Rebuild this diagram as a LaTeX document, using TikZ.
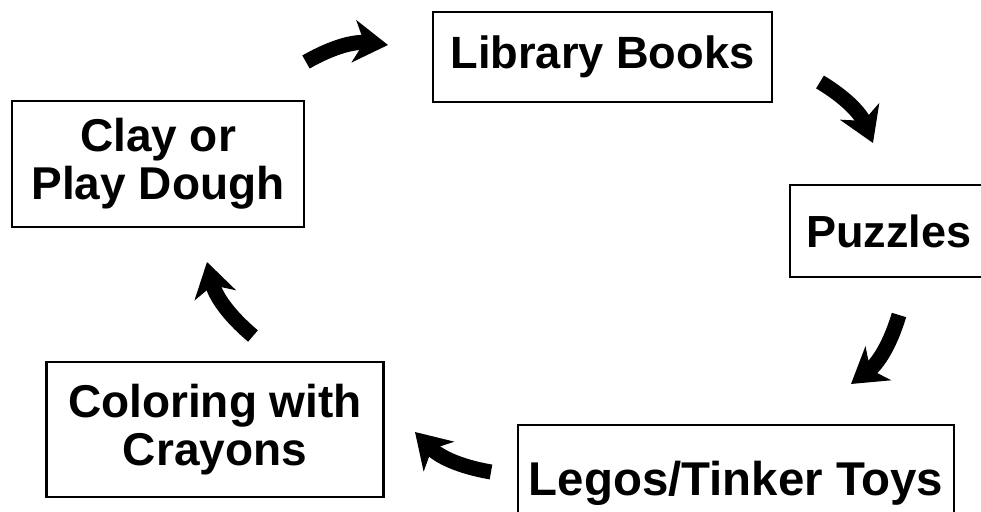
\documentclass[tikz,border=0pt]{standalone}
\usepackage{fontspec}
\setmainfont{Liberation Sans}
\usetikzlibrary{arrows.meta}
\tikzstyle{box}=[rectangle,draw=black,line width=1.3pt,fill=white,inner sep=0pt,align=center,font=\fontsize{23}{23.8}\selectfont\bfseries, anchor = center]
\tikzstyle{curvy}=[line width=7.5pt,-{Stealth[length=17pt,width=21pt,inset=5pt]},bend left=18]

\begin{document}
\begin{tikzpicture}[x=0.5pt,y=-0.5pt]
	\useasboundingbox (0,0) rectangle (981,512);
	\clip (0,0) rectangle (981,512);

	\node[box, minimum width=169.5pt, minimum height=45pt, font=\fontsize{22.6}{23}\selectfont\bfseries](books) at (602.5,57){Library Books};
	\node[box, minimum width=146pt, minimum height=63pt](clay) at (158,164){Clay or\\Play Dough};
	\node[box, minimum width=99pt, minimum height=46pt, font=\fontsize{22.5}{23}\selectfont\bfseries](puzzles) at (889,231){Puzzles};
	\node[box, minimum width=218pt, minimum height=58pt, font=\fontsize{23.7}{24.5}\selectfont\bfseries](legos) at (736,483){Legos/Tinker Toys};
	\node[box, minimum width=168.5pt, minimum height=67.5pt](crayons) at (215,429.5){Coloring with\\Crayons};

	% arrow ends sit in the gaps between the boxes
	\coordinate (a1s) at (306,62);  \coordinate (a1e) at (388,45);
	\coordinate (a2s) at (820,82);  \coordinate (a2e) at (873,143);
	\coordinate (a3s) at (899,315); \coordinate (a3e) at (851,384);
	\coordinate (a4s) at (491,472); \coordinate (a4e) at (415,432);
	\coordinate (a5s) at (253,336); \coordinate (a5e) at (207,262);

	\draw[curvy] (a1s) to (a1e);
	\draw[curvy] (a2s) to (a2e);
	\draw[curvy] (a3s) to (a3e);
	\draw[curvy] (a4s) to (a4e);
	\draw[curvy] (a5s) to (a5e);
\end{tikzpicture}
\end{document}
